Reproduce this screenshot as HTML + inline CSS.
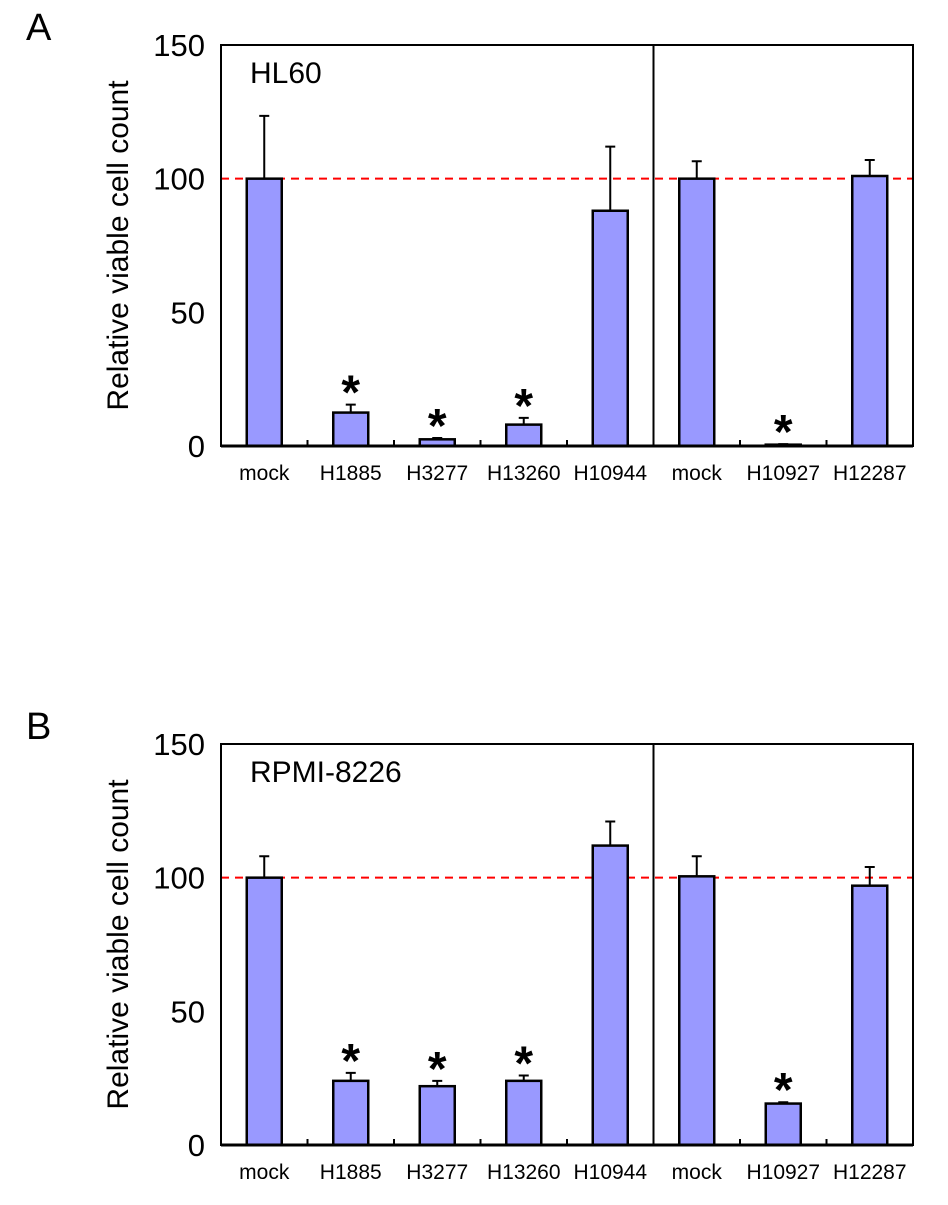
<!DOCTYPE html>
<html><head><meta charset="utf-8"><style>
body{margin:0;background:#fff;}
svg text{font-family:"Liberation Sans",Arial,sans-serif;fill:#000;}
</style></head><body>
<svg id="chart" width="948" height="1200" viewBox="0 0 948 1200" xmlns="http://www.w3.org/2000/svg"></svg>
<script>
const categories=["mock","H1885","H3277","H13260","H10944","mock","H10927","H12287"];
const valuesA=[100,12.5,2.5,8,88,100,0.5,101];
const errorsA=[23.5,3,0.5,2.5,24,6.5,0.2,6];
const sigA=[false,true,true,true,false,false,true,false];
const valuesB=[100,24,22,24,112,100.5,15.5,97];
const errorsB=[8,3,2,2,9,7.5,0.5,7];
const sigB=[false,true,true,true,false,false,true,false];
const yTicks=[0,50,100,150];
const svg=document.getElementById('chart');
const NS='http://www.w3.org/2000/svg';
function mk(tag,attrs,parent){const e=document.createElementNS(NS,tag);for(const k in attrs)e.setAttribute(k,attrs[k]);(parent||svg).appendChild(e);return e;}
const L=221,R=913,slot=(R-L)/8,bw=35;
function panel(top,letter,title,vals,errs,sig,key){
  const bottom=top+401;
  const y=v=>bottom-v*401/150;
  const x=i=>L+slot*(i+0.5);
  const g=mk('g',{});
  
  
  let t=mk('text',{x:26,y:top-5,'font-size':38},g);t.textContent=letter;
  
  const yl=mk('text',{transform:`translate(128,${(top+bottom)/2}) rotate(-90)`,'text-anchor':'middle','font-size':30},g);
  yl.textContent='Relative viable cell count';
  
  yTicks.forEach(v=>{const tt=mk('text',{x:205,y:y(v)+11,'text-anchor':'end','font-size':31},g);tt.textContent=v;
    });
  const ref=mk('line',{x1:L,x2:R,y1:y(100),y2:y(100),stroke:'#f00','stroke-width':2,'stroke-dasharray':'8,6'},g);
  
  vals.forEach((v,i)=>{
    const cx=x(i);
    const et=y(v+errs[i]);
    const e=mk('path',{d:`M${cx},${y(v)}V${et}M${cx-5},${et}H${cx+5}`,stroke:'#000','stroke-width':2,fill:'none'},g);
    
    const b=mk('rect',{x:cx-bw/2,y:y(v),width:bw,height:bottom-y(v),fill:'#9999ff',stroke:'#000','stroke-width':2.5},g);
    
    if(sig[i]){const s=mk('text',{x:cx,y:et+4,'text-anchor':'middle','font-size':48,'font-weight':'bold'},g);s.textContent='*';
      }
    const c=mk('text',{x:cx,y:bottom+34,'text-anchor':'middle','font-size':21},g);c.textContent=categories[i];
    
    if(i>0&&i!==5){const tk=mk('line',{x1:L+slot*i,x2:L+slot*i,y1:bottom,y2:bottom-6,stroke:'#000','stroke-width':2},g);
      }
  });
  const fr=mk('rect',{x:L,y:top,width:R-L,height:401,fill:'none',stroke:'#000','stroke-width':2},g);
  
  const dv=mk('line',{x1:L+slot*5,x2:L+slot*5,y1:top,y2:bottom,stroke:'#000','stroke-width':2},g);
  
  const ax=mk('line',{x1:L,x2:R,y1:bottom,y2:bottom,stroke:'#000','stroke-width':3},g);
  
  const tl=mk('text',{x:250,y:top+38,'font-size':30},g);tl.textContent=title;
  
}
panel(45,'A','HL60',valuesA,errorsA,sigA,'a');
panel(744,'B','RPMI-8226',valuesB,errorsB,sigB,'b');
</script>
</body></html>
